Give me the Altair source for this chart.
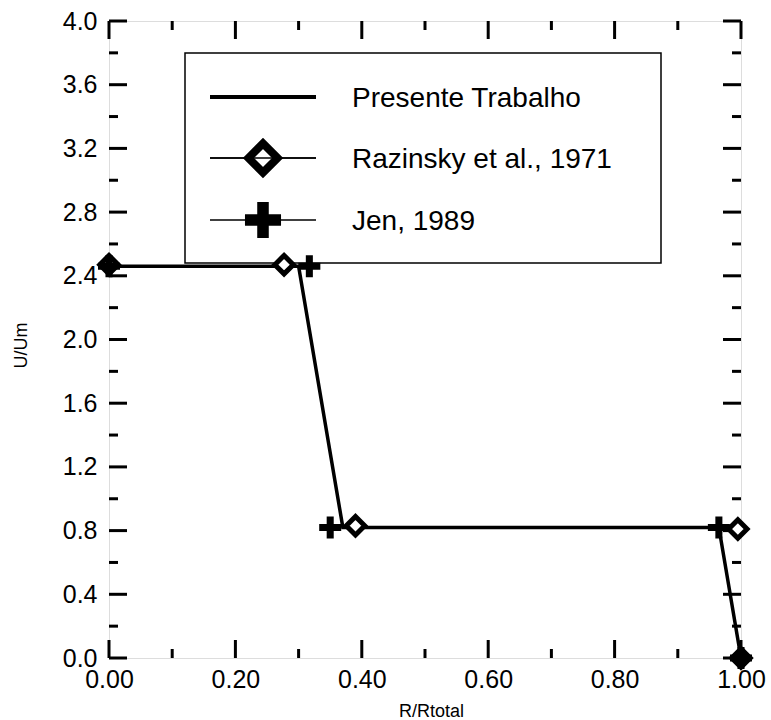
import altair as alt
import pandas as pd

# ---- data ----
pres_x = [0.0, 0.30, 0.37, 0.965, 1.0]
pres_y = [2.46, 2.46, 0.82, 0.82, 0.0]
raz_x = [0.0, 0.277, 0.39, 0.995, 1.0]
raz_y = [2.47, 2.47, 0.83, 0.81, 0.0]
jen_x = [0.0, 0.317, 0.35, 0.965, 1.0]
jen_y = [2.46, 2.46, 0.82, 0.82, 0.0]

x_major = [0.0, 0.2, 0.4, 0.6, 0.8, 1.0]
x_minor = [0.1, 0.3, 0.5, 0.7, 0.9]
y_major = [0.0, 0.4, 0.8, 1.2, 1.6, 2.0, 2.4, 2.8, 3.2, 3.6, 4.0]
y_minor = [0.2, 0.6, 1.0, 1.4, 1.8, 2.2, 2.6, 3.0, 3.4, 3.8]

legend_labels = ["Presente Trabalho", "Razinsky et al., 1971", "Jen, 1989"]

W, H = 632, 637
FONT = "Liberation Sans"

pres = pd.DataFrame({"x": pres_x, "y": pres_y, "i": range(len(pres_x))})
raz = pd.DataFrame({"x": raz_x, "y": raz_y})
jen = pd.DataFrame({"x": jen_x, "y": jen_y})

xscale = alt.Scale(domain=[0, 1], nice=False, zero=False)
yscale = alt.Scale(domain=[0, 4], nice=False, zero=False)

xaxis = alt.Axis(values=x_major, format=".2f", ticks=False, domain=False, grid=False,
                 labelFlush=False, labelOverlap=False,
                 labelFontSize=25, labelPadding=9, labelFont=FONT, labelColor="black",
                 title="R/Rtotal", titleFontSize=18, titleFont=FONT, titleFontWeight="normal",
                 titleX=322, titleY=58, titleBaseline="alphabetic", titleColor="black")
yaxis = alt.Axis(values=y_major, format=".1f", ticks=False, domain=False, grid=False,
                 labelFlush=False, labelOverlap=False,
                 labelFontSize=25, labelPadding=12, labelFont=FONT, labelColor="black",
                 title="U/Um", titleFontSize=18, titleFont=FONT, titleFontWeight="normal",
                 titleX=-83, titleY=324, titleBaseline="alphabetic", titleColor="black")

X = lambda: alt.X("x:Q", scale=xscale, axis=xaxis)
Y = lambda: alt.Y("y:Q", scale=yscale, axis=yaxis)

line = alt.Chart(pres).mark_line(color="black", strokeWidth=3.5).encode(
    x=X(), y=Y(), order="i:Q")

diam = alt.Chart(raz).mark_point(shape="diamond", size=340, filled=False, fill="white",
                                 fillOpacity=1, stroke="black", strokeWidth=5, opacity=1).encode(
    x=X(), y=Y())

PLUS = "M-1,-0.32H-0.32V-1H0.32V-0.32H1V0.32H0.32V1H-0.32V0.32H-1Z"
plus = alt.Chart(jen).mark_point(shape=PLUS, size=484, filled=True, color="black",
                                 opacity=1).encode(x=X(), y=Y())

# inward ticks on all four sides
def yticks(vals, length, right=False):
    df = pd.DataFrame({"y": vals})
    if right:
        xe = dict(x=alt.value(W), x2=alt.value(W - length))
    else:
        xe = dict(x=alt.value(0), x2=alt.value(length))
    return alt.Chart(df).mark_rule(color="black", strokeWidth=3).encode(y=Y(), **xe)

def xticks(vals, length, top=False):
    df = pd.DataFrame({"x": vals})
    if top:
        ye = dict(y=alt.value(0), y2=alt.value(length))
    else:
        ye = dict(y=alt.value(H), y2=alt.value(H - length))
    return alt.Chart(df).mark_rule(color="black", strokeWidth=3).encode(x=X(), **ye)

ticks = [yticks(y_major, 18), yticks(y_minor, 9), yticks(y_major, 18, True), yticks(y_minor, 9, True),
         xticks(x_major, 18), xticks(x_minor, 9), xticks(x_major, 18, True), xticks(x_minor, 9, True)]

# ---- legend box ----
one = alt.Data(values=[{"a": 1}])
LX0, LY0, LX1, LY1 = 76, 32, 552, 242
rows_y = [76, 137, 199]
box = alt.Chart(one).mark_rect(fill="white", stroke="black", strokeWidth=1.5).encode(
    x=alt.value(LX0), x2=alt.value(LX1), y=alt.value(LY0), y2=alt.value(LY1))
leg = [box]
widths = [4, 1.5, 1.5]
for k, lab in enumerate(legend_labels):
    leg.append(alt.Chart(one).mark_rule(color="black", strokeWidth=widths[k]).encode(
        x=alt.value(101), x2=alt.value(207), y=alt.value(rows_y[k])))
    leg.append(alt.Chart(one).mark_text(text=lab, font=FONT, fontSize=28, align="left",
                                        baseline="middle", color="black").encode(
        x=alt.value(243), y=alt.value(rows_y[k] + 2)))
leg.append(alt.Chart(one).mark_point(shape="diamond", size=850, filled=False, fill="white",
                                     fillOpacity=1, stroke="black", strokeWidth=8, opacity=1).encode(
    x=alt.value(154), y=alt.value(rows_y[1])))
leg.append(alt.Chart(one).mark_rule(color="black", strokeWidth=1.5).encode(
    x=alt.value(101), x2=alt.value(207), y=alt.value(rows_y[1])))
leg.append(alt.Chart(one).mark_point(shape=PLUS, size=1300, filled=True, color="black",
                                     opacity=1).encode(x=alt.value(154), y=alt.value(rows_y[2])))

chart = alt.layer(*ticks, line, *leg, diam, plus).properties(
    width=W, height=H,
    autosize=alt.AutoSizeParams(type="none"),
    padding={"left": 109, "top": 21, "right": 771 - 109 - W, "bottom": 720 - 21 - H},
).configure_view(stroke="black", strokeWidth=3).configure(background="white")

chart.save("out.html", embed_options={"renderer": "svg", "actions": False})
